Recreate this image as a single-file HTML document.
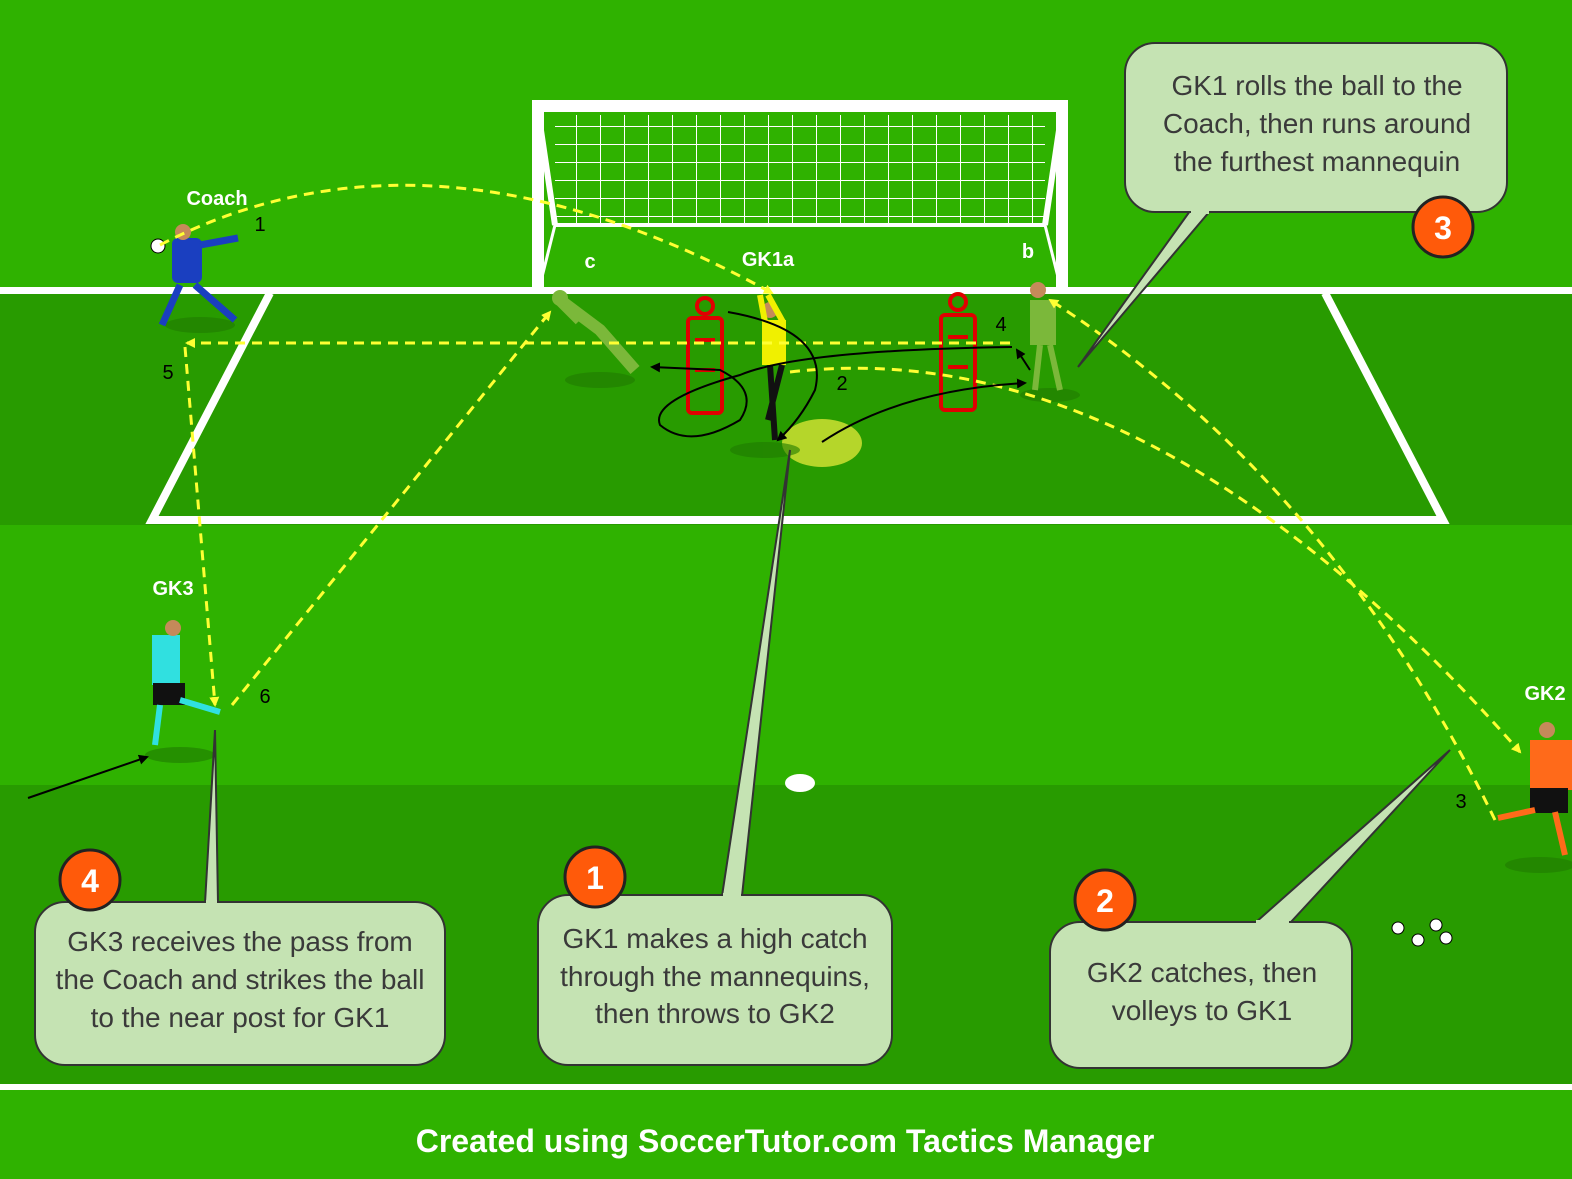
<!DOCTYPE html>
<html><head><meta charset="utf-8"><style>
html,body{margin:0;padding:0;background:#2fb200;}
svg{display:block}
text{font-family:"Liberation Sans",sans-serif}
</style></head><body>
<svg width="1572" height="1179" viewBox="0 0 1572 1179" xmlns="http://www.w3.org/2000/svg">
<defs>
<pattern id="net" width="24" height="18" patternUnits="userSpaceOnUse">
<path d="M0 0H24M0 0V18" stroke="#fff" stroke-width="2" fill="none"/>
</pattern>
<marker id="ay" markerWidth="10" markerHeight="10" refX="8" refY="5" orient="auto" markerUnits="userSpaceOnUse"><path d="M0,0 L10,5 L0,10 z" fill="#ffff33"/></marker>
<marker id="ab" markerWidth="10" markerHeight="10" refX="8" refY="5" orient="auto" markerUnits="userSpaceOnUse"><path d="M0,0 L10,5 L0,10 z" fill="#000"/></marker>
</defs>
<rect x="0" y="0" width="1572" height="1179" fill="#2fb200"/>
<rect x="0" y="290" width="1572" height="235" fill="#289b00"/>
<rect x="0" y="785" width="1572" height="300" fill="#289b00"/>
<rect x="0" y="1084" width="1572" height="6" fill="#fff"/>
<!-- goal -->
<rect x="555" y="115" width="490" height="110" fill="url(#net)"/>
<path d="M555 225 L540 285 M1045 225 L1060 285" stroke="#fff" stroke-width="3"/>
<path d="M538 110 L555 225 M1062 110 L1045 225" stroke="#fff" stroke-width="6"/>
<rect x="532" y="100" width="536" height="12" fill="#fff"/>
<rect x="532" y="100" width="12" height="190" fill="#fff"/>
<rect x="1056" y="100" width="12" height="190" fill="#fff"/>
<path d="M555 225 H1045" stroke="#fff" stroke-width="4"/>
<!-- lines -->
<rect x="0" y="287" width="1572" height="7" fill="#fff"/>
<path d="M270 293 L152 520 H1443 L1325 293" stroke="#fff" stroke-width="8" fill="none"/>
<ellipse cx="800" cy="783" rx="15" ry="9" fill="#fff"/>
<ellipse cx="822" cy="443" rx="40" ry="24" fill="#b5d62a"/>
<!-- shadows -->
<g fill="#1f7a00" opacity="0.6">
<ellipse cx="200" cy="325" rx="35" ry="8"/><ellipse cx="600" cy="380" rx="35" ry="8"/>
<ellipse cx="765" cy="450" rx="35" ry="8"/><ellipse cx="1050" cy="395" rx="30" ry="7"/>
<ellipse cx="180" cy="755" rx="35" ry="8"/><ellipse cx="1540" cy="865" rx="35" ry="8"/>
</g>
<!-- mannequins -->
<g fill="none" stroke="#e00000" stroke-width="4">
<rect x="688" y="318" width="34" height="95" rx="4"/><circle cx="705" cy="306" r="8"/>
<rect x="941" y="315" width="34" height="95" rx="4"/><circle cx="958" cy="302" r="8"/>
<path d="M695 340H715M695 370H715M948 337H968M948 367H968"/>
</g>
<!-- players -->
<g>
<rect x="172" y="238" width="30" height="45" rx="6" fill="#1a3fc0"/><circle cx="183" cy="232" r="8" fill="#c58a5a"/>
<path d="M180 285 L162 325 M195 285 L235 320 M200 245 L238 238" stroke="#1a3fc0" stroke-width="7"/>
<circle cx="158" cy="246" r="7" fill="#fff" stroke="#000"/>
<path d="M560 300 L600 330 L635 370 M580 320 L560 300" stroke="#7bb83a" stroke-width="12" fill="none"/>
<circle cx="560" cy="298" r="8" fill="#7bb83a"/>
<rect x="762" y="320" width="24" height="45" fill="#f0f000"/><circle cx="770" cy="310" r="8" fill="#c58a5a"/>
<path d="M765 322 L760 295 M783 322 L768 295" stroke="#f0f000" stroke-width="6"/>
<path d="M770 365 L775 440 M782 365 L768 420" stroke="#111" stroke-width="6"/>
<rect x="1030" y="300" width="26" height="45" fill="#7bb83a"/><circle cx="1038" cy="290" r="8" fill="#c58a5a"/>
<path d="M1040 345 L1035 390 M1050 345 L1060 390" stroke="#7bb83a" stroke-width="6"/>
<rect x="152" y="635" width="28" height="50" fill="#30e0e0"/><circle cx="173" cy="628" r="8" fill="#c58a5a"/>
<rect x="153" y="683" width="32" height="22" fill="#111"/>
<path d="M160 705 L155 745 M180 700 L220 712" stroke="#30e0e0" stroke-width="6"/>
<rect x="1530" y="740" width="42" height="50" fill="#ff6a1a"/><circle cx="1547" cy="730" r="8" fill="#c58a5a"/>
<rect x="1530" y="788" width="38" height="25" fill="#111"/>
<path d="M1535 810 L1498 818 M1555 812 L1565 855" stroke="#ff6a1a" stroke-width="6"/>
<g fill="#fff" stroke="#000"><circle cx="1398" cy="928" r="6"/><circle cx="1418" cy="940" r="6"/><circle cx="1436" cy="925" r="6"/><circle cx="1446" cy="938" r="6"/></g>
</g>
<!-- yellow dashed -->
<g stroke="#ffff33" stroke-width="3" stroke-dasharray="10,7" fill="none">
<path d="M160 245 Q 430 105 772 293" marker-end="url(#ay)"/>
<path d="M1010 343 L187 343" marker-end="url(#ay)"/>
<path d="M185 347 L215 705" marker-end="url(#ay)"/>
<path d="M232 705 L550 312" marker-end="url(#ay)"/>
<path d="M1495 820 Q 1330 480 1050 300" marker-end="url(#ay)"/>
<path d="M790 372 Q 1150 330 1520 752" marker-end="url(#ay)"/>
</g>
<!-- black lines -->
<g stroke="#000" stroke-width="2" fill="none">
<path d="M728 312 Q 830 330 815 390 Q 800 420 778 440" marker-end="url(#ab)"/>
<path d="M822 442 Q 900 390 1025 383" marker-end="url(#ab)"/>
<path d="M1012 347 Q 800 350 740 375 Q 650 400 660 425 Q 690 450 740 420 Q 760 390 720 370 L652 367" marker-end="url(#ab)"/>
<path d="M1030 370 L1017 350" marker-end="url(#ab)"/>
<path d="M28 798 L147 757" marker-end="url(#ab)"/>
</g>
<!-- labels -->
<g fill="#fff" font-weight="bold" font-size="20" text-anchor="middle">
<text x="217" y="205">Coach</text><text x="768" y="266">GK1a</text>
<text x="590" y="268">c</text><text x="1028" y="258">b</text>
<text x="173" y="595">GK3</text><text x="1545" y="700">GK2</text>
</g>
<g fill="#000" font-size="20" text-anchor="middle">
<text x="260" y="231">1</text><text x="842" y="390">2</text><text x="1461" y="808">3</text>
<text x="1001" y="331">4</text><text x="168" y="379">5</text><text x="265" y="703">6</text>
</g>
<!-- callouts -->
<g fill="#c5e3b3" stroke="#333" stroke-width="2">
<path d="M722 896 L790 450 L742 896"/>
<path d="M1255 923 L1450 750 L1290 923"/>
<path d="M1190 211 L1078 367 L1210 211"/>
<path d="M205 903 L215 730 L218 903"/>
<rect x="538" y="895" width="354" height="170" rx="30"/>
<rect x="1050" y="922" width="302" height="146" rx="30"/>
<rect x="1125" y="43" width="382" height="169" rx="30"/>
<rect x="35" y="902" width="410" height="163" rx="30"/>
</g>
<g fill="#c5e3b3"><rect x="723" y="893" width="18" height="6"/><rect x="1256" y="920" width="33" height="6"/><rect x="1191" y="208" width="18" height="6"/><rect x="206" y="900" width="11" height="6"/></g>
<g fill="#3a3a3a" font-size="28" text-anchor="middle">
<text x="715" y="948">GK1 makes a high catch</text><text x="715" y="986">through the mannequins,</text><text x="715" y="1023">then throws to GK2</text>
<text x="1202" y="982">GK2 catches, then</text><text x="1202" y="1020">volleys to GK1</text>
<text x="1317" y="95">GK1 rolls the ball to the</text><text x="1317" y="133">Coach, then runs around</text><text x="1317" y="171">the furthest mannequin</text>
<text x="240" y="951">GK3 receives the pass from</text><text x="240" y="989">the Coach and strikes the ball</text><text x="240" y="1027">to the near post for GK1</text>
</g>
<g fill="#ff5a0a" stroke="#222" stroke-width="3">
<circle cx="90" cy="880" r="30"/><circle cx="595" cy="877" r="30"/><circle cx="1105" cy="900" r="30"/><circle cx="1443" cy="227" r="30"/>
</g>
<g fill="#fff" font-weight="bold" font-size="32" text-anchor="middle">
<text x="90" y="892">4</text><text x="595" y="889">1</text><text x="1105" y="912">2</text><text x="1443" y="239">3</text>
</g>
<text x="785" y="1152" fill="#fff" font-weight="bold" font-size="32" text-anchor="middle">Created using SoccerTutor.com Tactics Manager</text>
</svg>
</body></html>
